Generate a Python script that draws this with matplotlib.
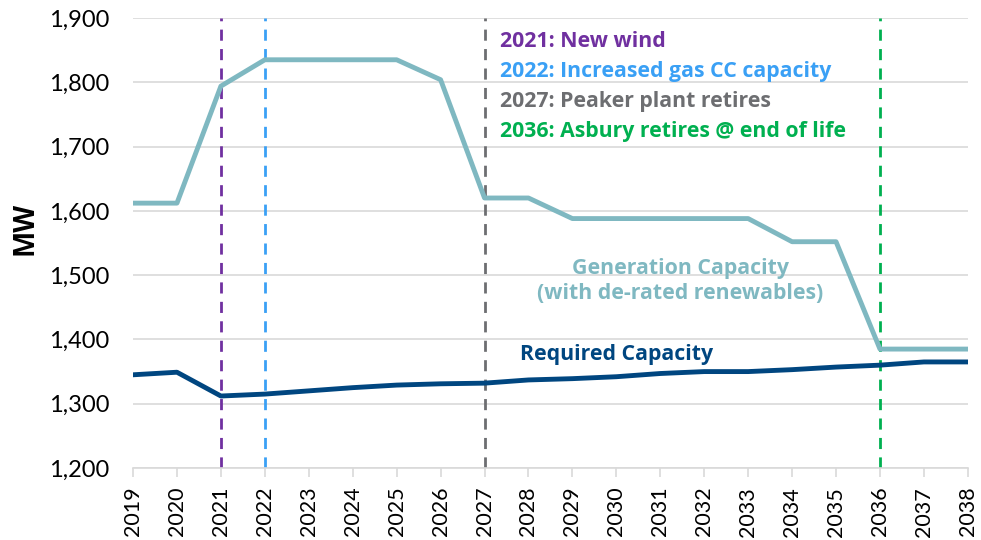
import numpy as np
import matplotlib.pyplot as plt

years = list(range(2019, 2039))
generation = [1612, 1612, 1794, 1835, 1835, 1835, 1835, 1804, 1620, 1620,
              1588, 1588, 1588, 1588, 1588, 1552, 1552, 1385, 1385, 1385]
required = [1345, 1349, 1312, 1315, 1320, 1325, 1329, 1331, 1332, 1337,
            1339, 1342, 1347, 1350, 1350, 1353, 1357, 1360, 1365, 1365]

event_years = [2021, 2022, 2027, 2036]
event_labels = ["2021: New wind", "2022: Increased gas CC capacity",
                "2027: Peaker plant retires", "2036: Asbury retires @ end of life"]
event_colors = ["#7030A0", "#3AA0F5", "#6D6E71", "#00B050"]

plt.rcParams['font.family'] = ['Lato', 'DejaVu Sans']
bold_font = ['Open Sans', 'DejaVu Sans']

fig = plt.figure(figsize=(9.81, 5.4), dpi=100)
ax = fig.add_axes([0.1356, 0.1333, 0.851, 0.8334])

for y in range(1200, 2000, 100):
    ax.axhline(y, color="#D9D9D9", lw=1.2, zorder=0)

for yr, c in zip(event_years, event_colors):
    ax.axvline(yr, color=c, lw=2, ls=(0, (4, 3)), zorder=1)

ax.plot(years, generation, color="#7FB8C1", lw=3.5, zorder=3)
ax.plot(years, required, color="#004680", lw=3.5, zorder=3)

for i, (lab, c) in enumerate(zip(event_labels, event_colors)):
    ax.text(2027.35, 1864 - i * 47, lab, color=c, fontsize=15.3,
            fontweight="bold", family=bold_font, va="center", ha="left")

ax.text(2031.45, 1491, "Generation Capacity\n(with de-rated renewables)",
        color="#7FB8C1", fontsize=15.3, fontweight="bold", family=bold_font,
        ha="center", va="center", linespacing=1.2)
ax.text(2030.0, 1376, "Required Capacity", color="#004680", fontsize=15.3,
        fontweight="bold", family=bold_font, ha="center", va="center")

ax.set_xlim(2019, 2038)
ax.set_ylim(1200, 1900)
ax.set_yticks(range(1200, 2000, 100))
ax.set_yticklabels([f"{v:,}" for v in range(1200, 2000, 100)], fontsize=17)
ax.set_xticks(years)
ax.set_xticklabels([str(y) for y in years], rotation=90, fontsize=15.5)
ax.tick_params(axis="y", length=0, pad=17)
ax.tick_params(axis="x", length=6.5, color="#D9D9D9", width=1.2, pad=7)
for s in ["top", "right", "left"]:
    ax.spines[s].set_visible(False)
ax.spines["bottom"].set_color("#D9D9D9")
ax.spines["bottom"].set_linewidth(1.2)
ax.set_ylabel("MW", fontsize=20, fontweight="bold", family=bold_font)
ax.yaxis.set_label_coords(-0.112, 0.533)

fig.savefig("out.png", dpi=100)
